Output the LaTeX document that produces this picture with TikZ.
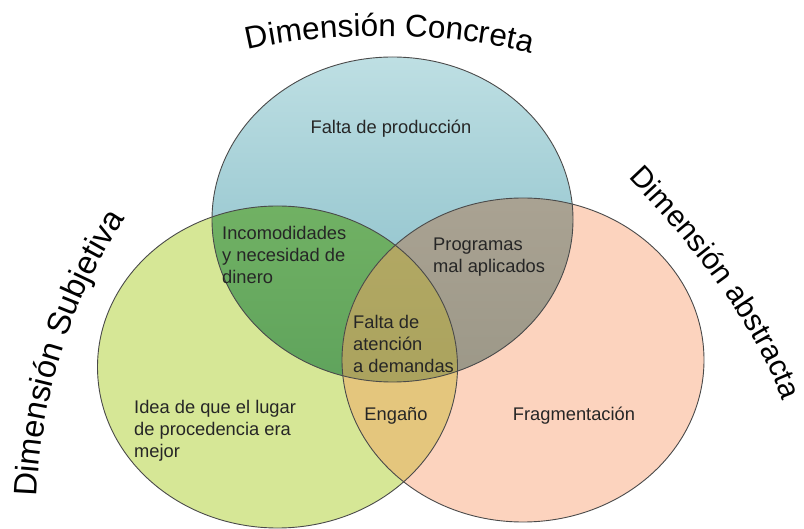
\documentclass[tikz,border=0pt]{standalone}
\usepackage{fontspec}
\setmainfont{Liberation Sans}
\usetikzlibrary{decorations.text}
\definecolor{cTop}{HTML}{BEDFE3}
\definecolor{cBot}{HTML}{7FB8C4}
\definecolor{cGreen}{HTML}{D6E796}
\definecolor{cSalmon}{HTML}{FCD3BE}
\definecolor{cBGtop}{HTML}{80BD6A}
\definecolor{cBGbot}{HTML}{5FA35C}
\definecolor{cBStop}{HTML}{B4AA9A}
\definecolor{cBSbot}{HTML}{9C9888}
\definecolor{cGS}{HTML}{E4C67D}
\definecolor{cMidtop}{HTML}{BAAE6A}
\definecolor{cMidbot}{HTML}{ABA35E}
\definecolor{cLine}{HTML}{4A4A4A}
\definecolor{cText}{HTML}{262626}
\newcommand{\pathConc}{(392.5,219.5) ellipse [x radius=180.5pt, y radius=162.5pt]}
\newcommand{\pathSubj}{(277.5,367) ellipse [x radius=180pt, y radius=161pt]}
\newcommand{\pathAbst}{(523,360) ellipse [x radius=181pt, y radius=162pt]}
\newcommand{\titlefmtA}{\fontsize{31.5}{31.5}\selectfont}
\newcommand{\titlefmtB}{\fontsize{32.5}{32.5}\selectfont}
\newcommand{\titlefmtC}{\fontsize{30}{30}\selectfont}
\tikzset{
  inner/.style={font=\fontsize{18.3}{22}\selectfont, text=cText, inner sep=0pt, align=left},
  outline/.style={draw=cLine, line width=0.9pt},
  titlepath/.style={decorate, decoration={text along path, text align=left,
     text={#1}}}
}
\begin{document}
\begin{tikzpicture}[x=1pt,y=-1pt]
\useasboundingbox (0,0) rectangle (804,529);
% base fills
\fill[cGreen] \pathSubj;
\fill[cSalmon] \pathAbst;
\shade[top color=cTop, bottom color=cBot] \pathConc;
% overlaps
\begin{scope}
  \clip \pathSubj;
  \shade[top color=cBGtop, bottom color=cBGbot] \pathConc;
\end{scope}
\begin{scope}
  \clip \pathAbst;
  \shade[top color=cBStop, bottom color=cBSbot] \pathConc;
\end{scope}
\begin{scope}
  \clip \pathSubj;
  \fill[cGS] \pathAbst;
\end{scope}
\begin{scope}
  \clip \pathSubj;
  \clip \pathAbst;
  \shade[top color=cMidtop, bottom color=cMidbot] \pathConc;
\end{scope}
% outlines
\path[outline] \pathConc;
\path[outline] \pathSubj;
\path[outline] \pathAbst;
% titles
\path[titlepath={|\titlefmtA|Dimensión Concreta}] (248,50) .. controls (330,30) and (470,30) .. (560,62);
\path[titlepath={|\titlefmtB|Dimensión Subjetiva}] (37,497) .. controls (40,405) and (70,282) .. (152,182);
\path[titlepath={|\titlefmtC|Dimensión abstracta}] (628,178) .. controls (683,235) and (757,322) .. (786,410);
% texts
\node[inner, anchor=center] (prod) at (391,129) {Falta de producción};
\node[inner, anchor=west] (inc) at (222,255) {Incomodidades\\y necesidad de\\dinero};
\node[inner, anchor=west] (prog) at (433,257.5) {Programas\\mal aplicados};
\node[inner, anchor=west] (fal) at (353,343.5) {Falta de\\atención\\a demandas};
\node[inner, anchor=west] (idea) at (134,430.5) {Idea de que el lugar\\de procedencia era\\mejor};
\node[inner, anchor=center] (eng) at (396,416) {Engaño};
\node[inner, anchor=center] (frag) at (574,416) {Fragmentación};
\end{tikzpicture}
\end{document}
